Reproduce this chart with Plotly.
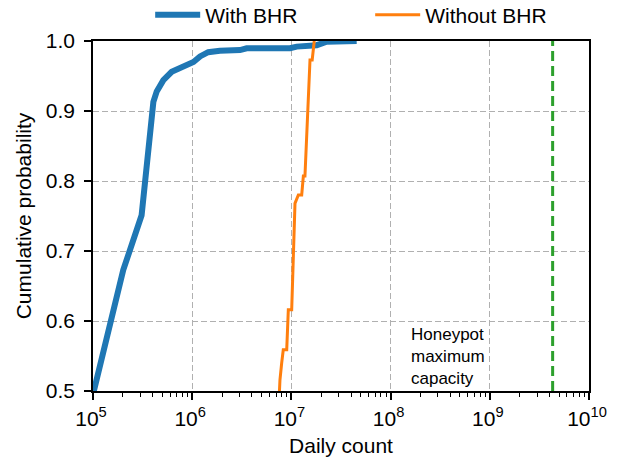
import plotly.graph_objects as go

# Data
with_bhr_count = [1.0e5, 2.02e5, 3.09e5, 4.06e5, 4.39e5, 5.12e5, 6.21e5, 7.53e5, 9.5e5,
                  1.03e6, 1.2e6, 1.45e6, 1.9e6, 3.03e6, 3.54e6, 9.7e6, 1.13e7, 1.8e7,
                  2.27e7, 4.55e7]
with_bhr_prob = [0.495, 0.673, 0.751, 0.913, 0.928, 0.944, 0.956, 0.961, 0.967,
                 0.970, 0.978, 0.984, 0.986, 0.987, 0.9896, 0.9896, 0.992, 0.994,
                 0.999, 1.0]

without_bhr_count = [7.55e6, 7.67e6, 7.98e6, 8.28e6, 8.97e6, 9.31e6, 1.007e7, 1.087e7,
                     1.175e7, 1.27e7, 1.32e7, 1.37e7, 1.54e7, 1.62e7, 1.70e7]
without_bhr_prob = [0.495, 0.516, 0.540, 0.559, 0.559, 0.616, 0.616, 0.768,
                    0.78, 0.78, 0.807, 0.807, 0.973, 0.973, 1.0]

capacity_x = [4.3e9, 4.3e9]
capacity_y = [0.5, 1.0]

x_tickvals = [1e5, 1e6, 1e7, 1e8, 1e9, 1e10]
x_ticktext = ["10<sup>5</sup>", "10<sup>6</sup>", "10<sup>7</sup>", "10<sup>8</sup>",
              "10<sup>9</sup>", "10<sup>10</sup>"]
y_tickvals = [0.5, 0.6, 0.7, 0.8, 0.9, 1.0]

x_minor = [m * 10 ** e for e in range(5, 10) for m in range(2, 10)]

FONT = "Liberation Sans, Arial, Helvetica, sans-serif"

fig = go.Figure()
fig.add_trace(go.Scatter(x=with_bhr_count, y=with_bhr_prob, mode="lines",
                         name="With BHR", line=dict(color="#1f77b4", width=6)))
fig.add_trace(go.Scatter(x=without_bhr_count, y=without_bhr_prob, mode="lines",
                         name="Without BHR", line=dict(color="#ff7f0e", width=3)))
fig.add_trace(go.Scatter(x=capacity_x, y=capacity_y, mode="lines", showlegend=False,
                         line=dict(color="#2ca02c", width=3, dash="10px,5px")))

fig.add_annotation(x=0.637, y=0.098, xref="paper", yref="paper", xanchor="left",
                   yanchor="middle", align="left", showarrow=False,
                   text="Honeypot<br>maximum<br>capacity",
                   font=dict(family=FONT, size=17, color="black"))

fig.update_layout(
    width=618, height=459,
    margin=dict(l=93, r=29, t=41, b=68, autoexpand=False),
    paper_bgcolor="white", plot_bgcolor="white",
    font=dict(family=FONT, size=21, color="black"),
    showlegend=True,
    legend=dict(orientation="h", xref="container", yref="container",
                x=0.599, xanchor="center", y=0.967, yanchor="middle",
                font=dict(size=21), bgcolor="rgba(0,0,0,0)", entrywidth=160,
                entrywidthmode="pixels", itemwidth=45),
)
fig.update_xaxes(type="log", range=[5, 10], tickvals=x_tickvals, ticktext=x_ticktext,
                 automargin=False,
                 showline=True, linecolor="black", linewidth=1.5, mirror=True,
                 ticks="outside", ticklen=7, tickcolor="black", tickwidth=1.5,
                 ticklabelshift=-2, ticklabelstandoff=1,
                 showgrid=True, gridcolor="#b0b0b0", griddash="6px,3px", gridwidth=1.2,
                 minor=dict(ticks="outside", ticklen=4, tickcolor="black", tickwidth=1,
                            tickvals=x_minor, showgrid=False),
                 title=dict(text="Daily count", font=dict(size=21), standoff=9),
                 zeroline=False)
fig.update_yaxes(range=[0.5, 1.0], tickvals=y_tickvals, tickformat=".1f",
                 automargin=False,
                 showline=True, linecolor="black", linewidth=1.5, mirror=True,
                 ticks="outside", ticklen=7, tickcolor="black", tickwidth=1.5,
                 ticklabelstandoff=5,
                 showgrid=True, gridcolor="#b0b0b0", griddash="6px,3px", gridwidth=1.2,
                 title=dict(text="Cumulative probability", font=dict(size=21), standoff=8),
                 zeroline=False)

fig.write_html("out.html", config={"displayModeBar": False},
               post_script="document.body.style.margin='0px';")
